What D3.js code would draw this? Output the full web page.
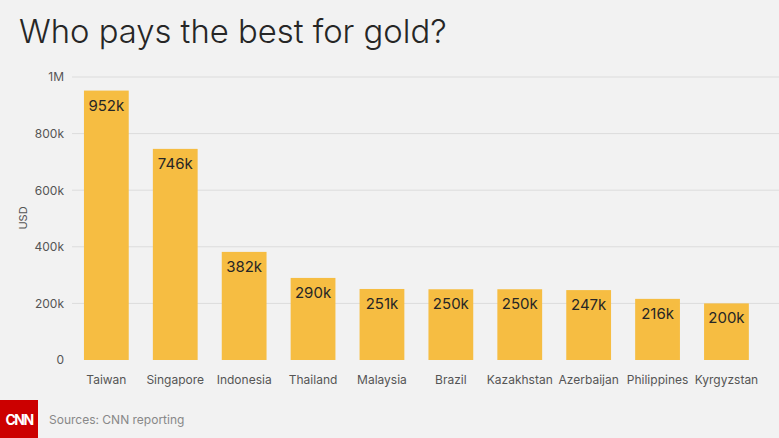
<!DOCTYPE html>
<html><head><meta charset="utf-8">
<script src="https://cdn.jsdelivr.net/npm/d3@7"></script>
<style>
html,body{margin:0;padding:0;background:#f2f2f2;}
svg{display:block;font-family:Inter,"Noto Sans",sans-serif;}
</style></head>
<body>
<svg id="chart" width="779" height="438"></svg>
<script>
const categories = ["Taiwan","Singapore","Indonesia","Thailand","Malaysia","Brazil","Kazakhstan","Azerbaijan","Philippines","Kyrgyzstan"];
const values = [952000,746000,382000,290000,251000,250000,250000,247000,216000,200000];
const valueLabels = ["952k","746k","382k","290k","251k","250k","250k","247k","216k","200k"];
const yTicks = [0,200000,400000,600000,800000,1000000];
const yTickLabels = ["0","200k","400k","600k","800k","1M"];

const svg = d3.select("#chart");
svg.append("rect").attr("width",779).attr("height",438).attr("fill","#f2f2f2");

const x = d3.scaleBand().domain(categories).range([71.9,760.9]).paddingInner(0.35).paddingOuter(0.175);
const y = d3.scaleLinear().domain([0,1000000]).range([360,77]);

// title
svg.append("text").attr("x",19).attr("y",43).attr("font-size",32.8).attr("fill","#262626")
  .attr("font-weight",300).text("Who pays the best for gold?");

// gridlines + y labels
const yAxis = d3.axisLeft(y).tickValues(yTicks).tickFormat((d,i)=>yTickLabels[i]).tickSize(0).tickPadding(8);
const gy = svg.append("g").attr("transform","translate(72,0)").call(yAxis);
gy.select(".domain").remove();
gy.selectAll("text").attr("font-size",12).attr("fill","#555").attr("font-family","Inter,sans-serif").attr("x",-8);
svg.append("g").selectAll("line").data(yTicks.filter(d=>d>0)).join("line")
  .attr("x1",72).attr("x2",779).attr("y1",d=>y(d)).attr("y2",d=>y(d))
  .attr("stroke","#dcdcdc").attr("stroke-width",1);

svg.append("text").attr("transform","translate(27,218) rotate(-90)").attr("text-anchor","middle")
  .attr("font-size",11).attr("fill","#555").text("USD");

// bars
svg.append("g").selectAll("rect").data(values).join("rect")
  .attr("x",(d,i)=>x(categories[i])).attr("width",x.bandwidth())
  .attr("y",d=>y(d)).attr("height",d=>y(0)-y(d)).attr("fill","#f6bd42");

svg.append("g").selectAll("text").data(values).join("text")
  .attr("x",(d,i)=>x(categories[i])+x.bandwidth()/2).attr("y",d=>y(d)+20)
  .attr("text-anchor","middle").attr("font-size",15).attr("fill","#262626")
  .text((d,i)=>valueLabels[i]);

// x axis labels
const xAxis = d3.axisBottom(x).tickSize(0).tickPadding(0);
const gx = svg.append("g").attr("transform","translate(0,375)").call(xAxis);
gx.select(".domain").remove();
gx.selectAll("text").attr("font-size",12).attr("fill","#555").attr("font-family","Inter,sans-serif").attr("dy","0.71em");

// footer
svg.append("rect").attr("x",0).attr("y",400).attr("width",38).attr("height",38).attr("fill","#cc0000");
svg.append("text").attr("x",19).attr("y",425).attr("text-anchor","middle").attr("font-size",14)
  .attr("font-weight",700).attr("fill","#fff").attr("letter-spacing",-1.5).text("CNN");
svg.append("text").attr("x",49).attr("y",424).attr("font-size",12).attr("fill","#888").text("Sources: CNN reporting");
</script>
</body></html>
